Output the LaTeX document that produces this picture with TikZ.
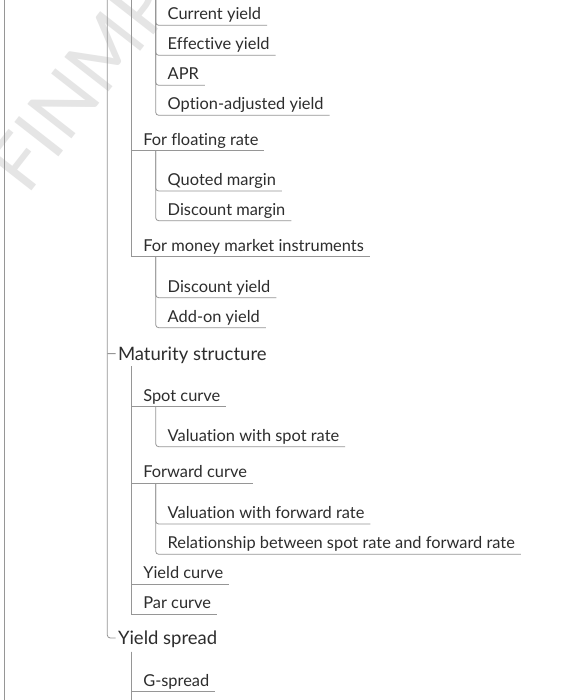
\documentclass[tikz,border=0pt]{standalone}
\usepackage{fontspec}
\setmainfont{Lato}[Ligatures={NoCommon}]
\definecolor{ln}{RGB}{150,150,150}
\definecolor{tx}{RGB}{45,45,45}
\definecolor{wmc}{RGB}{229,229,229}
\begin{document}
\begin{tikzpicture}[x=1pt,y=-1pt,
  lvA/.style={font=\fontsize{18.5}{22}\selectfont, text=tx, inner sep=0pt, outer sep=0pt, anchor=base west},
  lvB/.style={font=\fontsize{16.4}{19}\selectfont, text=tx, inner sep=0pt, outer sep=0pt, anchor=base west},
  conn/.style={draw=ln, line width=0.8pt},
  curv/.style={conn, rounded corners=3pt},
]
\useasboundingbox (0,0) rectangle (582,700);
\fill[white] (0,0) rectangle (582,700);
% watermark
\node[rotate=52, anchor=base west, text=wmc, inner sep=0pt, font=\fontsize{78}{78}\selectfont] (wm) at (27,197) {FINMP};

% level 3, group A
\node[lvB] (a1) at (167.7,20) {Current yield};
\node[lvB] (a2) at (167.7,50) {Effective yield};
\node[lvB] (a3) at (167.7,80) {APR};
\node[lvB] (a4) at (167.7,110) {Option-adjusted yield};
% level 2
\node[lvB] (b1) at (143.3,145.2) {For floating rate};
\node[lvB] (b2) at (143.3,251.2) {For money market instruments};
\node[lvB] (c1) at (167.7,185.5) {Quoted margin};
\node[lvB] (c2) at (167.7,215.2) {Discount margin};
\node[lvB] (d1) at (167.7,292.2) {Discount yield};
\node[lvB] (d2) at (167.7,322.2) {Add-on yield};
% level 1
\node[lvA] (m) at (118,360.7) {Maturity structure};
\node[lvB] (s) at (143.3,401.2) {Spot curve};
\node[lvB] (s1) at (167.7,441.2) {Valuation with spot rate};
\node[lvB] (f) at (143.3,477.8) {Forward curve};
\node[lvB] (f1) at (167.7,518.5) {Valuation with forward rate};
\node[lvB] (f2) at (167.7,548.8) {Relationship between spot rate and forward rate};
\node[lvB] (yc) at (143.3,578.8) {Yield curve};
\node[lvB] (p) at (143.3,608.8) {Par curve};
\node[lvA] (ys) at (118,644.3) {Yield spread};
\node[lvB] (g) at (143.3,686.2) {G-spread};

% trunk coordinates
\coordinate (v0t) at (4,0);
\coordinate (v0b) at (4,700);
\coordinate (v1t) at (107.3,0);
\coordinate (v1m) at (107.3,353.6);
\coordinate (t2A) at (131.7,0);
\coordinate (t3A) at (155.7,0);
\coordinate (t3B) at (155.7,150.7);
\coordinate (t3C) at (155.7,256.7);
\coordinate (t2M) at (131.7,366);
\coordinate (t3S) at (155.7,406.7);
\coordinate (t3F) at (155.7,483.3);
\coordinate (t2Y) at (131.7,651.7);
\coordinate (t2Yb) at (131.7,700);

\draw[conn] (v0t) -- (v0b);
% level 1
\draw[curv] (v1t) |- ([shift={(-2.5,-6.3)}]ys.base west);
\draw[conn] (v1m) -- ([shift={(-2.5,-7.1)}]m.base west);
% group A
\foreach \n in {a1,a2,a3,a4} \draw[curv] (t3A) |- ([shift={(6,5.3)}]\n.base east);
\draw[conn] (t2A) |- ([shift={(6,5.5)}]b1.base east);
\draw[conn] (t2A) |- ([shift={(6,5.5)}]b2.base east);
\foreach \n in {c1,c2} \draw[curv] (t3B) |- ([shift={(6,5.5)}]\n.base east);
\foreach \n in {d1,d2} \draw[curv] (t3C) |- ([shift={(6,5.5)}]\n.base east);
% maturity structure
\foreach \n in {s,f,yc,p} \draw[conn] (t2M) |- ([shift={(6,5.5)}]\n.base east);
\draw[curv] (t3S) |- ([shift={(6,5.5)}]s1.base east);
\foreach \n in {f1,f2} \draw[curv] (t3F) |- ([shift={(6,5.5)}]\n.base east);
% yield spread
\draw[conn] (t2Y) -- (t2Yb);
\draw[conn] (t2Y) |- ([shift={(6,5.5)}]g.base east);
\end{tikzpicture}
\end{document}
